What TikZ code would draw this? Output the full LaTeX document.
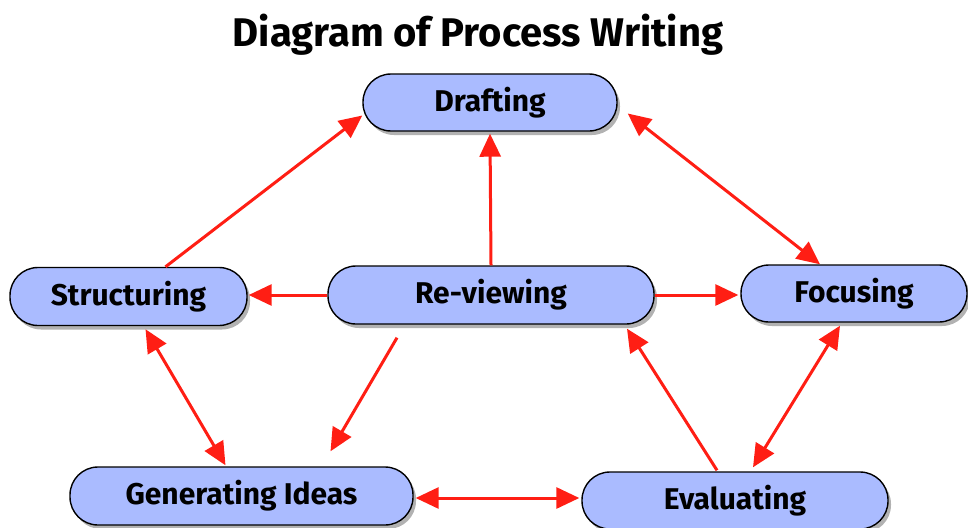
\documentclass[tikz,border=0pt]{standalone}
\usepackage{fontspec}
\setmainfont{Fira Sans}
\usetikzlibrary{arrows.meta,shadows,calc}
\definecolor{boxfill}{RGB}{170,187,255}
\definecolor{arrred}{RGB}{255,30,20}
\begin{document}
\begin{tikzpicture}[x=1pt,y=-1pt,
  stage/.style={draw=black, line width=1.4pt, fill=boxfill, rounded corners=28pt,
    inner sep=0pt, font=\fontsize{30}{34}\selectfont\bfseries,
    drop shadow={shadow xshift=3pt, shadow yshift=-4pt, fill=black, opacity=0.3}},
  link/.style={draw=arrred, line width=3pt, -{Triangle[length=23pt,width=21pt]}},
  link2/.style={draw=arrred, line width=3pt, {Triangle[length=23pt,width=21pt]}-{Triangle[length=23pt,width=21pt]}}
]
\useasboundingbox (0,0) rectangle (968,527);
\node[anchor=base, font=\fontsize{40}{46}\selectfont\bfseries] (title) at (478,47) {Diagram of Process Writing};

\node[stage, minimum width=254pt, minimum height=57pt] (draft) at (490,102.5) {Drafting};
\node[stage, minimum width=237pt, minimum height=58pt] (struct) at (128.5,296.5) {Structuring};
\node[stage, minimum width=326pt, minimum height=58pt] (review) at (491,295) {Re-viewing};
\node[stage, minimum width=226pt, minimum height=57pt] (focus) at (854,293.5) {Focusing};
\node[stage, minimum width=343pt, minimum height=58pt] (gen) at (241.5,496) {Generating Ideas};
\node[stage, minimum width=306pt, minimum height=57pt] (eval) at (735,500.5) {Evaluating};

\draw[link] ($(struct.north)+(37,0)$) -- ($(draft.west)+(0,13)$);
\draw[link] (review.north) -- ($(draft.south)+(0,2)$);
\draw[link2] ($(draft.east)+(10,11)$) -- ($(focus.north)+(-34,0)$);
\draw[link] (review.west) -- ($(struct.east |- review.west)+(1,0)$);
\draw[link] (review.east) -- ($(focus.west |- review.east)+(-2,0)$);
\draw[link2] ($(struct.south)+(17,3)$) -- ($(gen.north)+(-16,-1)$);
\draw[link] ($(review.south)+(-94,13)$) -- ($(gen.north)+(89,-15)$);
\draw[link2] ($(gen.east)+(2,2)$) -- ($(eval.west)+(-2,-2.5)$);
\draw[link] ($(eval.north)+(-18,-1)$) -- ($(review.south)+(136,4)$);
\draw[link2] ($(eval.north)+(18,-4)$) -- ($(focus.south)+(-14,3)$);
\end{tikzpicture}
\end{document}
